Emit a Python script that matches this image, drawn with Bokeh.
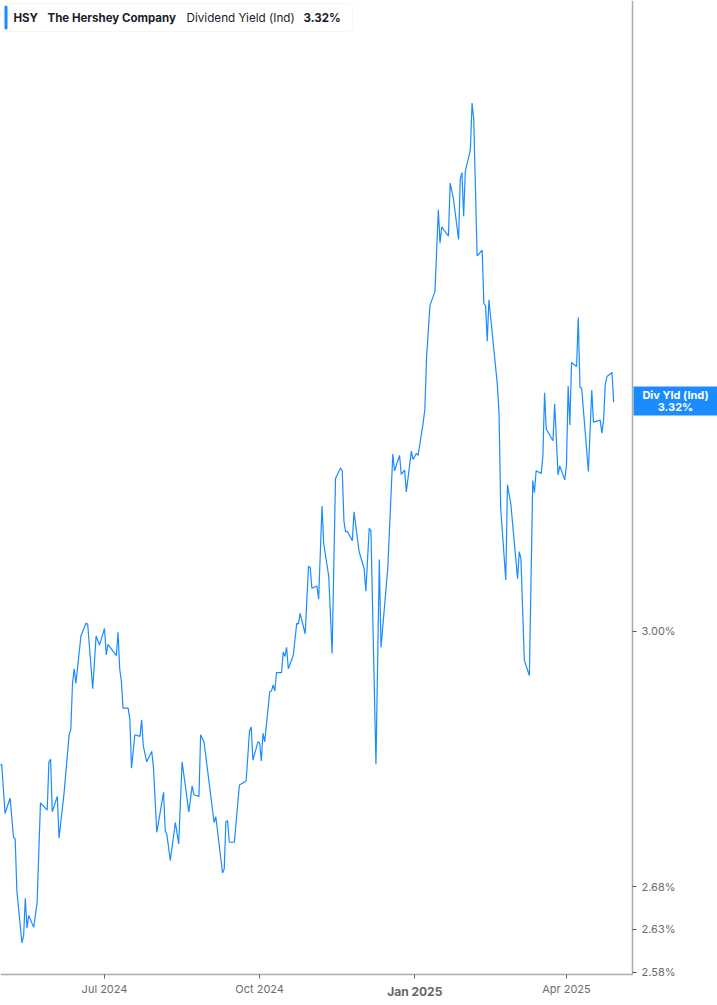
from datetime import datetime
import pandas as pd
from bokeh.plotting import figure
from bokeh.models import (Range1d, FixedTicker, PrintfTickFormatter, Label,
                          BoxAnnotation, ColumnDataSource)
from bokeh.embed import file_html
from bokeh.resources import INLINE

# ---------------- data ----------------
dates = [
    "2024-04-30", "2024-05-01", "2024-05-03", "2024-05-06", "2024-05-08", "2024-05-09",
    "2024-05-10", "2024-05-13", "2024-05-14", "2024-05-15", "2024-05-16", "2024-05-17",
    "2024-05-20", "2024-05-22", "2024-05-24", "2024-05-28", "2024-05-29", "2024-05-30",
    "2024-05-31", "2024-06-03", "2024-06-04", "2024-06-07", "2024-06-10", "2024-06-11",
    "2024-06-12", "2024-06-13", "2024-06-14", "2024-06-17", "2024-06-20", "2024-06-21",
    "2024-06-24", "2024-06-26", "2024-06-28", "2024-07-01", "2024-07-02", "2024-07-03",
    "2024-07-08", "2024-07-09", "2024-07-10", "2024-07-11", "2024-07-12", "2024-07-15",
    "2024-07-16", "2024-07-17", "2024-07-19", "2024-07-22", "2024-07-23", "2024-07-24",
    "2024-07-26", "2024-07-29", "2024-07-30", "2024-08-01", "2024-08-05", "2024-08-06",
    "2024-08-07", "2024-08-09", "2024-08-12", "2024-08-14", "2024-08-16", "2024-08-20",
    "2024-08-22", "2024-08-23", "2024-08-26", "2024-08-27", "2024-08-29", "2024-09-04",
    "2024-09-05", "2024-09-09", "2024-09-10", "2024-09-11", "2024-09-12", "2024-09-13",
    "2024-09-16", "2024-09-19", "2024-09-23", "2024-09-25", "2024-09-26", "2024-09-27",
    "2024-09-30", "2024-10-01", "2024-10-02", "2024-10-03", "2024-10-04", "2024-10-07",
    "2024-10-08", "2024-10-09", "2024-10-10", "2024-10-11", "2024-10-14", "2024-10-15",
    "2024-10-16", "2024-10-17", "2024-10-18", "2024-10-21", "2024-10-23", "2024-10-24",
    "2024-10-25", "2024-10-28", "2024-10-30", "2024-10-31", "2024-11-01", "2024-11-04",
    "2024-11-05", "2024-11-07", "2024-11-08", "2024-11-11", "2024-11-13", "2024-11-15",
    "2024-11-18", "2024-11-19", "2024-11-20", "2024-11-21", "2024-11-22", "2024-11-25",
    "2024-11-26", "2024-11-29", "2024-12-02", "2024-12-03", "2024-12-05", "2024-12-06",
    "2024-12-09", "2024-12-11", "2024-12-12", "2024-12-16", "2024-12-19", "2024-12-20",
    "2024-12-23", "2024-12-24", "2024-12-26", "2024-12-27", "2024-12-30", "2024-12-31",
    "2025-01-02", "2025-01-03", "2025-01-06", "2025-01-07", "2025-01-08", "2025-01-10",
    "2025-01-13", "2025-01-15", "2025-01-16", "2025-01-17", "2025-01-21", "2025-01-22",
    "2025-01-24", "2025-01-27", "2025-01-28", "2025-01-29", "2025-01-30", "2025-01-31",
    "2025-02-03", "2025-02-04", "2025-02-05", "2025-02-07", "2025-02-10", "2025-02-11",
    "2025-02-12", "2025-02-13", "2025-02-14", "2025-02-19", "2025-02-20", "2025-02-21",
    "2025-02-24", "2025-02-25", "2025-02-27", "2025-03-03", "2025-03-04", "2025-03-05",
    "2025-03-07", "2025-03-10", "2025-03-12", "2025-03-13", "2025-03-14", "2025-03-17",
    "2025-03-18", "2025-03-19", "2025-03-20", "2025-03-24", "2025-03-25", "2025-03-27",
    "2025-03-28", "2025-03-31", "2025-04-01", "2025-04-02", "2025-04-03", "2025-04-04",
    "2025-04-07", "2025-04-08", "2025-04-09", "2025-04-10", "2025-04-14", "2025-04-16",
    "2025-04-17", "2025-04-21", "2025-04-22", "2025-04-23", "2025-04-24", "2025-04-25",
    "2025-04-28", "2025-04-29",
]
yields = [
    2.828, 2.829, 2.768, 2.787, 2.739, 2.737,
    2.675, 2.614, 2.622, 2.666, 2.631, 2.646,
    2.632, 2.661, 2.781, 2.772, 2.832, 2.835,
    2.770, 2.789, 2.738, 2.793, 2.866, 2.873,
    2.932, 2.951, 2.932, 2.994, 3.011, 3.010,
    2.925, 2.994, 2.982, 3.004, 2.969, 2.983,
    2.968, 2.999, 2.951, 2.934, 2.900, 2.900,
    2.886, 2.824, 2.866, 2.864, 2.885, 2.852,
    2.832, 2.845, 2.825, 2.745, 2.794, 2.747,
    2.742, 2.711, 2.757, 2.731, 2.832, 2.770,
    2.802, 2.791, 2.789, 2.866, 2.857, 2.757,
    2.764, 2.696, 2.701, 2.758, 2.759, 2.733,
    2.733, 2.803, 2.808, 2.871, 2.876, 2.834,
    2.857, 2.856, 2.833, 2.868, 2.857, 2.921,
    2.922, 2.930, 2.922, 2.946, 2.946, 2.973,
    2.967, 2.979, 2.951, 2.969, 3.011, 3.010,
    3.024, 2.997, 3.088, 3.086, 3.058, 3.061,
    3.043, 3.171, 3.119, 3.074, 2.971, 3.210,
    3.225, 3.221, 3.150, 3.135, 3.136, 3.123,
    3.163, 3.108, 3.084, 3.054, 3.140, 3.137,
    2.829, 3.097, 2.979, 3.085, 3.245, 3.221,
    3.243, 3.216, 3.222, 3.191, 3.249, 3.237,
    3.246, 3.243, 3.290, 3.310, 3.386, 3.465,
    3.487, 3.615, 3.562, 3.588, 3.573, 3.658,
    3.632, 3.568, 3.665, 3.675, 3.605, 3.677,
    3.712, 3.790, 3.762, 3.542, 3.551, 3.468,
    3.465, 3.411, 3.474, 3.346, 3.304, 3.168,
    3.069, 3.201, 3.174, 3.071, 3.108, 3.098,
    2.962, 2.942, 3.207, 3.190, 3.221, 3.217,
    3.242, 3.334, 3.281, 3.264, 3.318, 3.215,
    3.228, 3.208, 3.230, 3.344, 3.287, 3.379,
    3.373, 3.447, 3.342, 3.341, 3.220, 3.338,
    3.291, 3.294, 3.275, 3.294, 3.346, 3.358,
    3.364, 3.320,
]
x_tick_dates = ["2024-07-01", "2024-10-01", "2025-01-01", "2025-04-01"]
x_tick_labels = ["Jul 2024", "Oct 2024", "Jan 2025", "Apr 2025"]
bold_tick_label = "Jan 2025"
y_ticks = [2.58, 2.63, 2.68, 3.00]

symbol = "HSY"
company = "The Hershey Company"
metric = "Dividend Yield (Ind)"
metric_short = "Div Yld (Ind)"

# ---------------- layout ----------------
W, H = 717, 1005
BLUE = "#1a8cff"
FONT = "Inter"

x_start = datetime(2024, 4, 30, 7)
x_end = datetime(2025, 6, 29, 14)
x_axis_at = datetime(2025, 5, 10, 4)        # where the value axis sits
y_start, y_end = 2.5426, 3.9657
y_axis_floor = 2.578                         # where the time axis sits

src = ColumnDataSource(dict(date=pd.to_datetime(dates), yld=yields))

p = figure(width=W, height=H,
           x_axis_type="datetime", y_axis_type="log", y_axis_location="right",
           x_range=Range1d(x_start, x_end), y_range=Range1d(y_start, y_end),
           output_backend="svg", toolbar_location=None,
           min_border_left=0, min_border_top=0,
           min_border_right=0, min_border_bottom=0)

p.line(x="date", y="yld", source=src, line_color=BLUE, line_width=1.2)

p.grid.visible = False
p.outline_line_color = None
p.background_fill_color = "white"
p.border_fill_color = "white"

axis_ms = pd.Timestamp(x_axis_at).value / 1e6
start_ms = pd.Timestamp(x_start).value / 1e6
tick_ms = [pd.Timestamp(d).value / 1e6 for d in x_tick_dates]

xa = p.xaxis[0]
xa.fixed_location = y_axis_floor
xa.bounds = (start_ms, axis_ms)
xa.ticker = FixedTicker(ticks=tick_ms)
xa.major_label_overrides = {t: ("" if lab == bold_tick_label else lab)
                            for t, lab in zip(tick_ms, x_tick_labels)}
xa.axis_line_color = "#ababab"
xa.axis_line_width = 1.5
xa.major_tick_line_color = "#666666"
xa.major_tick_out = 4
xa.major_tick_in = 0
xa.minor_tick_line_color = None
xa.major_label_text_font = FONT
xa.major_label_text_font_size = "11px"
xa.major_label_text_color = "#6c6c6c"
xa.major_label_standoff = 4

ya = p.yaxis[0]
ya.fixed_location = axis_ms
ya.bounds = (y_axis_floor, y_end)
ya.ticker = FixedTicker(ticks=y_ticks)
ya.formatter = PrintfTickFormatter(format="%.2f%%")
ya.axis_line_color = "#ababab"
ya.axis_line_width = 1.5
ya.major_tick_line_color = "#555555"
ya.major_tick_out = 4
ya.major_tick_in = 0
ya.minor_tick_line_color = None
ya.major_label_text_font = FONT
ya.major_label_text_font_size = "11px"
ya.major_label_text_color = "#6c6c6c"
ya.major_label_standoff = 5

# bold year tick label
for t, lab in zip(tick_ms, x_tick_labels):
    if lab == bold_tick_label:
        p.add_layout(Label(x=t, y=H - 991, x_units="data", y_units="screen", text=lab,
                           text_font=FONT, text_font_size="12px", text_font_style="bold",
                           text_color="#666666", text_align="center",
                           text_baseline="middle"))

# header legend box
def sbox(left, right, top, bottom, **kw):
    return BoxAnnotation(left=left, right=right, top=H - top, bottom=H - bottom,
                         left_units="screen", right_units="screen",
                         top_units="screen", bottom_units="screen", **kw)

p.add_layout(sbox(3, 352, 3, 31, fill_color="white", fill_alpha=1.0,
                  line_color="#e2e2e2", line_width=1, border_radius=4))
p.add_layout(sbox(4, 7, 5, 29, fill_color=BLUE, fill_alpha=1.0, line_color=None,
                  border_radius=2))
last_txt = f"{yields[-1]:.2f}%"
for xs, txt, style, fs in [(13, symbol, "bold", "11.5px"), (47, company, "bold", "11.5px"),
                           (186, metric, "normal", "11.7px"), (303, last_txt, "bold", "11.5px")]:
    p.add_layout(Label(x=xs, y=H - 17, x_units="screen", y_units="screen", text=txt,
                       text_font=FONT, text_font_size=fs, text_font_style=style,
                       text_color="#1c1c2a", text_baseline="middle"))

# right-side last value tag
p.add_layout(sbox(633, 717, 386, 415, fill_color=BLUE, fill_alpha=1.0, line_color=None))
for ys, txt in [(394.5, metric_short), (406, last_txt)]:
    p.add_layout(Label(x=675, y=H - ys, x_units="screen", y_units="screen", text=txt,
                       text_font=FONT, text_font_size="11px", text_font_style="bold",
                       text_color="white", text_align="center", text_baseline="middle"))

open("out.html", "w").write(file_html(p, INLINE))
